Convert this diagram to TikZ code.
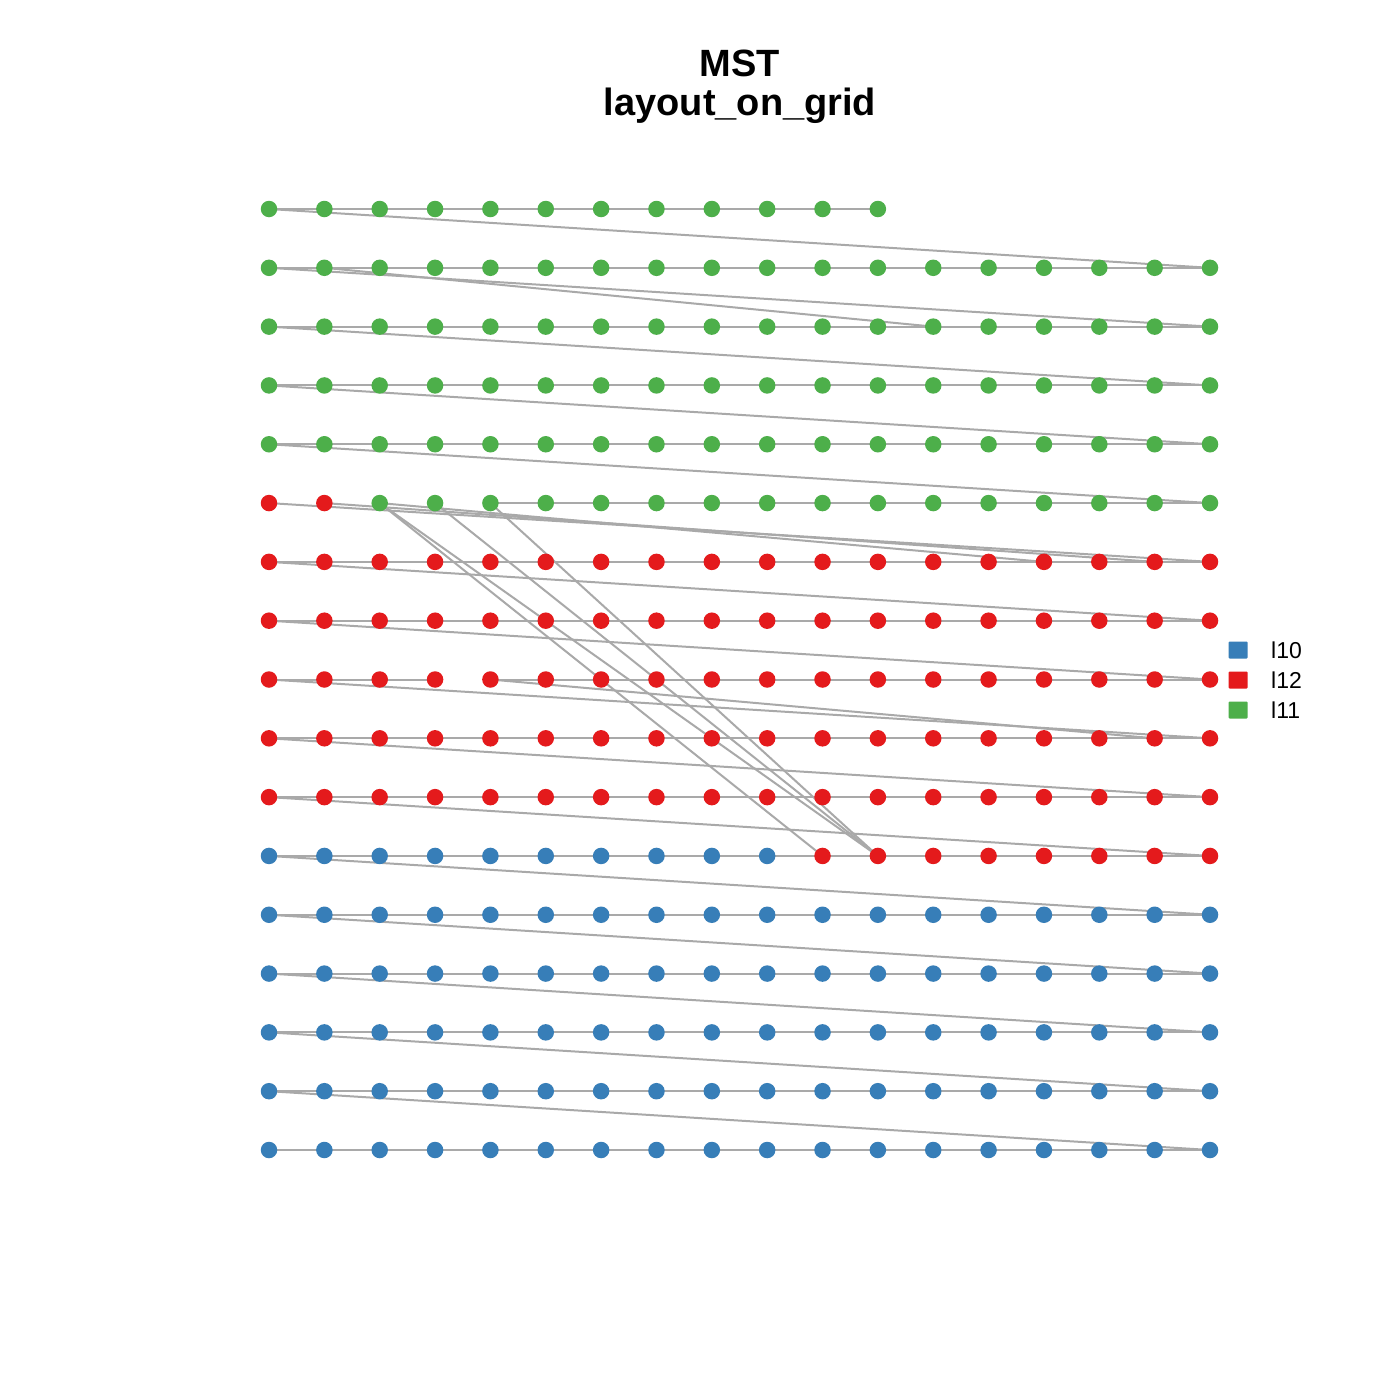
\documentclass[tikz,border=0pt]{standalone}
\usepackage{fontspec}
\setmainfont{Liberation Sans}
\definecolor{cgreen}{HTML}{4DAF4A}
\definecolor{cred}{HTML}{E41A1C}
\definecolor{cblue}{HTML}{377EB8}
\definecolor{cedge}{HTML}{A9A9A9}
\pgfdeclarelayer{edgelayer}
\pgfsetlayers{edgelayer,main}
\begin{document}
\begin{tikzpicture}[x=1pt,y=1pt,
  vert/.style={circle,inner sep=0pt,minimum size=16.5pt,draw=none},
  gedge/.style={draw=cedge,line width=2pt},
  legbox/.style={inner sep=0pt,minimum width=19pt,minimum height=17pt,rounded corners=1pt},
  legtext/.style={anchor=west,inner sep=0pt,font=\fontsize{23}{25}\selectfont},
  titletext/.style={anchor=base,inner sep=0pt,font=\bfseries\fontsize{38}{44}\selectfont}]
\useasboundingbox (0,0) rectangle (1400,-1400);
% vertices
\foreach \c in {1,...,12}{\node[vert,fill=cgreen] (n-1-\c) at ({269+(\c-1)*55.353},-209) {};}
\foreach \r in {2,...,5}{\foreach \c in {1,...,18}{\node[vert,fill=cgreen] (n-\r-\c) at ({269+(\c-1)*55.353},{-209-(\r-1)*58.8125}) {};}}
\foreach \c in {1,2}{\node[vert,fill=cred] (n-6-\c) at ({269+(\c-1)*55.353},{-209-5*58.8125}) {};}
\foreach \c in {3,...,18}{\node[vert,fill=cgreen] (n-6-\c) at ({269+(\c-1)*55.353},{-209-5*58.8125}) {};}
\foreach \r in {7,...,11}{\foreach \c in {1,...,18}{\node[vert,fill=cred] (n-\r-\c) at ({269+(\c-1)*55.353},{-209-(\r-1)*58.8125}) {};}}
\foreach \c in {1,...,10}{\node[vert,fill=cblue] (n-12-\c) at ({269+(\c-1)*55.353},{-209-11*58.8125}) {};}
\foreach \c in {11,...,18}{\node[vert,fill=cred] (n-12-\c) at ({269+(\c-1)*55.353},{-209-11*58.8125}) {};}
\foreach \r in {13,...,17}{\foreach \c in {1,...,18}{\node[vert,fill=cblue] (n-\r-\c) at ({269+(\c-1)*55.353},{-209-(\r-1)*58.8125}) {};}}
% edges
\begin{pgfonlayer}{edgelayer}
\fill[white] (0,0) rectangle (1400,-1400);
\foreach \r in {2,3,4,5,7,8,10,11,12,13,14,15,16,17}{
  \foreach \c [evaluate=\c as \d using int(\c+1)] in {1,...,17}{\draw[gedge] (n-\r-\c.center) -- (n-\r-\d.center);}}
\foreach \c [evaluate=\c as \d using int(\c+1)] in {1,...,11}{\draw[gedge] (n-1-\c.center) -- (n-1-\d.center);}
\foreach \c [evaluate=\c as \d using int(\c+1)] in {5,...,17}{\draw[gedge] (n-6-\c.center) -- (n-6-\d.center);}
\foreach \c [evaluate=\c as \d using int(\c+1)] in {1,2,3,5,6,7,8,9,10,11,12,13,14,15,16,17}{\draw[gedge] (n-9-\c.center) -- (n-9-\d.center);}
\foreach \r [evaluate=\r as \s using int(\r+1)] in {1,...,16}{\draw[gedge] (n-\r-1.center) -- (n-\s-18.center);}
\draw[gedge] (n-2-2.center) -- (n-3-13.center);
\draw[gedge] (n-6-2.center) -- (n-7-17.center);
\draw[gedge] (n-6-3.center) -- (n-7-15.center);
\draw[gedge] (n-6-3.center) -- (n-12-11.center);
\draw[gedge] (n-6-3.center) -- (n-12-12.center);
\draw[gedge] (n-6-4.center) -- (n-12-12.center);
\draw[gedge] (n-6-5.center) -- (n-12-12.center);
\draw[gedge] (n-9-5.center) -- (n-10-17.center);
\end{pgfonlayer}
% title
\node[titletext] (title1) at (740,-76) {MST};
\node[titletext] (title2) at (740,-115) {layout\_on\_grid};
% legend
\node[legbox,fill=cblue] (lb1) at (1238,-650) {};
\node[legbox,fill=cred] (lb2) at (1238,-680) {};
\node[legbox,fill=cgreen] (lb3) at (1238,-710) {};
\node[legtext] (lt1) at (1271,-650) {l10};
\node[legtext] (lt2) at (1271,-680) {l12};
\node[legtext] (lt3) at (1271,-710) {l11};
\end{tikzpicture}
\end{document}
